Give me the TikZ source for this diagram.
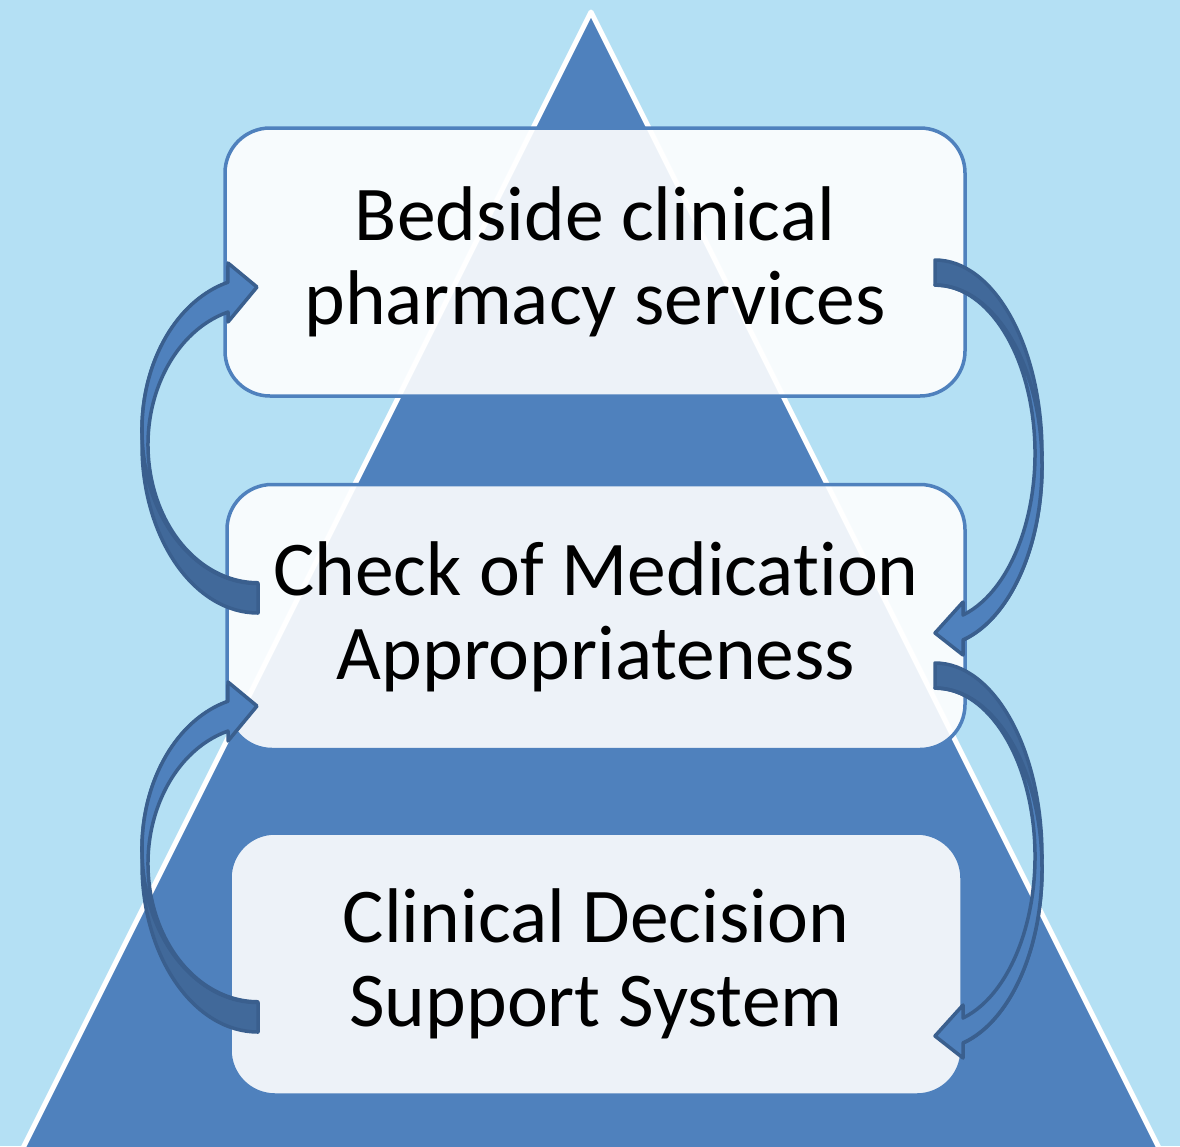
\documentclass[tikz,border=0pt]{standalone}
\usepackage{fontspec}
\setmainfont[Ligatures=NoCommon]{Carlito}
\definecolor{bgblue}{HTML}{B4E0F4}
\definecolor{triblue}{HTML}{4F81BD}
\definecolor{arrline}{HTML}{3A5F8E}
\definecolor{arrback}{HTML}{41699A}
\definecolor{arrfront}{HTML}{4F81BD}
\tikzset{
  box/.style={draw=triblue, line width=3.5pt, fill=white, fill opacity=0.9, text opacity=1,
    rounded corners=45pt, align=center, inner sep=0pt, text=black,
    font=\fontsize{77.5}{84}\selectfont},
  arrowback/.style={fill=arrback, draw=arrline, line width=3.5pt, line join=round},
  arrowfront/.style={fill=arrfront, draw=arrline, line width=3.5pt, line join=round},
}
% left-side curved arrow (points right at top); #1 = vertical offset
\newcommand{\leftcurvearrow}[1]{%
  \path[arrowback] (258,{613+#1})
    arc[start angle=90, end angle=255, x radius=116, y radius=168]
    arc[start angle=255, end angle=90, x radius=116, y radius=153] -- cycle;
  \path[arrowfront] (258,{583+#1})
    arc[start angle=90, end angle=255, x radius=116, y radius=153]
    -- (228,{263+#1}) -- (257,{287+#1}) -- (228,{322+#1}) -- (228,{312+#1})
    arc[start angle=254.17, end angle=90, x radius=110, y radius=138] -- cycle;
}
% right-side curved arrow (points left at bottom); #1 = vertical offset
\newcommand{\rightcurvearrow}[1]{%
  \path[arrowback] (935,{260+#1})
    arc[start angle=-90, end angle=74.83, x radius=107, y radius=193.4]
    arc[start angle=74.83, end angle=-90, x radius=107, y radius=180.6] -- cycle;
  \path[arrowfront] (935,{285+#1})
    arc[start angle=-90, end angle=74.83, x radius=107, y radius=180.6]
    -- (963,{655+#1}) -- (935,{633+#1}) -- (963,{602+#1}) -- (963,{615+#1})
    arc[start angle=73.74, end angle=-90, x radius=100, y radius=168.4] -- cycle;
}
\begin{document}
\begin{tikzpicture}[x=1pt, y=1pt, yscale=-1]
  \fill[bgblue] (0,0) rectangle (1180,1146);
  \useasboundingbox (0,0) rectangle (1180,1146);
  % pyramid
  \path[fill=triblue, draw=white, line width=5pt, line join=round]
    (591,12) -- (1161,1152) -- (21,1152) -- cycle;
  % boxes
  \node[box, minimum width=740pt, minimum height=268pt] (b1) at (595,262)
    {Bedside clinical\\pharmacy services};
  \node[box, minimum width=738pt, minimum height=265pt] (b2) at (596,617)
    {Check of Medication\\Appropriateness};
  \node[box, minimum width=732pt, minimum height=262pt] (b3) at (596,964)
    {Clinical Decision\\Support System};
  % curved arrows
  \leftcurvearrow{0}
  \leftcurvearrow{419}
  \rightcurvearrow{0}
  \rightcurvearrow{403}
\end{tikzpicture}
\end{document}
